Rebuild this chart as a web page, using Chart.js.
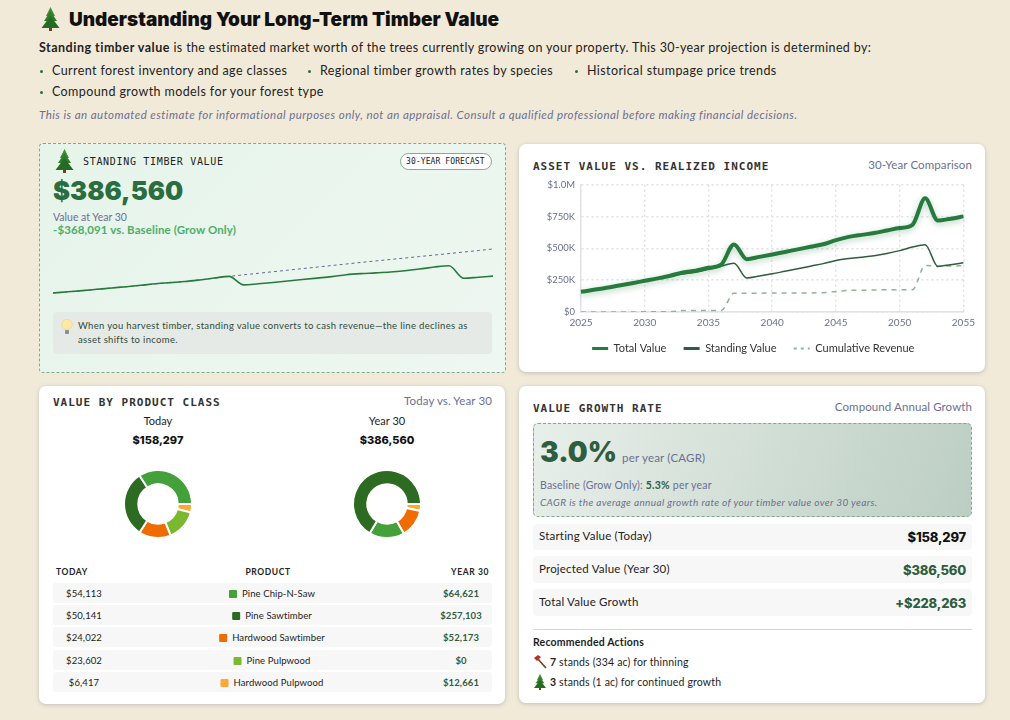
<!DOCTYPE html>
<html>
<head>
<meta charset="utf-8">
<title>Long-Term Timber Value</title>
<script src="https://cdn.jsdelivr.net/npm/chart.js@4/dist/chart.umd.min.js"></script>
<style>
  * { box-sizing: border-box; }
  html, body { margin: 0; padding: 0; }
  body { width: 1010px; height: 720px; overflow: hidden; position: relative; background: #f2ead9; font-family: Lato, sans-serif; color: #1d1d1f; }
  .t { position: absolute; white-space: nowrap; line-height: 16px; height: 16px; }
  .r { text-align: right; }
  .c { text-align: center; transform: translateX(-50%); }
  .card { position: absolute; background: #fff; border-radius: 7px; box-shadow: 0 1px 4px rgba(60,60,90,.25); }
  .hero { background: linear-gradient(135deg, #e6f4ea, #eef7f1); border: 1px dashed #7fa88f; border-radius: 4px; box-shadow: none; }
  .mono { font-family: "DejaVu Sans Mono", monospace; font-weight: 700; font-size: 10px; color: #333; }
  .sub { font-size: 11.5px; color: #6b6f93; letter-spacing: .1px; }
  .intro { font-size: 12.5px; letter-spacing: .4px; color: #222; }
  .dot { position: absolute; width: 3px; height: 3px; border-radius: 50%; background: #2f6b45; }
  .pill { position: absolute; left: 400px; top: 153px; width: 92px; height: 17px; background: #fff; border: 1px solid #8aa896; border-radius: 9px; }
  .tip { position: absolute; left: 53px; top: 312px; width: 439px; height: 42px; background: #e5eae6; border-radius: 4px; }
  .tiptext { font-size: 9.5px; letter-spacing: .32px; color: #2f4a3a; }
  .row { position: absolute; left: 53px; width: 439px; height: 20px; background: #f7f7f7; border-radius: 3px; font-size: 9.5px; letter-spacing: .1px; line-height: 21px; color: #222; }
  .row span { position: absolute; top: 0; white-space: nowrap; transform: translateX(-50%); }
  .row i { display: inline-block; width: 8px; height: 8px; border-radius: 1px; margin-right: 5px; vertical-align: -1px; }
  .yr { color: #2f5d3f; font-weight: 700; }
  .th { font-size: 8.5px; font-weight: 700; letter-spacing: .6px; color: #222; }
  .cagr { position: absolute; left: 533px; top: 423px; width: 439px; height: 94px; border: 1px dashed #7fa88f; border-radius: 5px; background: linear-gradient(110deg, #e8efea, #bccec3); }
  .stat { position: absolute; left: 533px; width: 439px; background: #f7f7f7; border-radius: 4px; }
  .sl { font-size: 11.5px; letter-spacing: .2px; color: #222; }
  .sv { font: 800 13px/16px Inter, sans-serif; letter-spacing: -.2px; color: #111; }
  .big { font-family: Inter, sans-serif; font-weight: 900; }
  .rule { position: absolute; left: 533px; top: 629px; width: 439px; height: 1px; background: #d5d5e0; }
  svg.icon { position: absolute; }
  canvas { position: absolute; }
</style>
</head>
<body>

<svg width="0" height="0" style="position:absolute">
  <symbol id="tree" viewBox="0 0 20 24">
    <rect x="8.5" y="19" width="3" height="5" fill="#6b4226"/>
    <polygon points="10,0 14.5,9 5.5,9" fill="#3f8f2f"/>
    <polygon points="10,4 16.5,14 3.5,14" fill="#2f7d2a"/>
    <polygon points="10,9 19,21 1,21" fill="#256b24"/>
  </symbol>
</svg>

<!-- intro -->
<svg class="icon" style="left:40px;top:7px" width="21" height="24"><use href="#tree"/></svg>
<div class="t big" style="left:69px;top:12px;font-size:19px;color:#111">Understanding Your Long-Term Timber Value</div>
<div class="t intro" style="left:39px;top:40px;letter-spacing:.36px"><b style="letter-spacing:.5px">Standing timber value</b> is the estimated market worth of the trees currently growing on your property. This 30-year projection is determined by:</div>
<div class="dot" style="left:40px;top:70px"></div>
<div class="t intro" style="left:52px;top:63px">Current forest inventory and age classes</div>
<div class="dot" style="left:308px;top:70px"></div>
<div class="t intro" style="left:320px;top:63px">Regional timber growth rates by species</div>
<div class="dot" style="left:575px;top:70px"></div>
<div class="t intro" style="left:587px;top:63px">Historical stumpage price trends</div>
<div class="dot" style="left:40px;top:91px"></div>
<div class="t intro" style="left:52px;top:84px">Compound growth models for your forest type</div>
<div class="t" style="left:39px;top:107px;font-size:11.5px;font-style:italic;letter-spacing:.45px;color:#6b6f93">This is an automated estimate for informational purposes only, not an appraisal. Consult a qualified professional before making financial decisions.</div>

<!-- standing timber value -->
<div class="card hero" style="left:39px;top:143px;width:467px;height:230px"></div>
<svg class="icon" style="left:54px;top:149px" width="21" height="24"><use href="#tree"/></svg>
<div class="t mono" style="left:83px;top:154px;letter-spacing:.68px;font-weight:400;color:#222">STANDING TIMBER VALUE</div>
<div class="pill"></div>
<div class="t mono" style="left:406px;top:154px;font-size:8px;letter-spacing:.1px;font-weight:400;color:#222">30-YEAR FORECAST</div>
<div class="t big" style="left:53px;top:183px;font-size:25.6px;color:#2a6e3f">$386,560</div>
<div class="t" style="left:53px;top:209px;font-size:10.5px;color:#6b6f93">Value at Year 30</div>
<div class="t" style="left:53px;top:222px;font-size:11.5px;font-weight:700;color:#4caf6a;letter-spacing:.1px">-$368,091 vs. Baseline (Grow Only)</div>
<canvas id="spark" style="left:53px;top:240px"></canvas>
<div class="tip"></div>
<svg class="icon" style="left:61px;top:319px" width="12" height="16" viewBox="0 0 12 16">
  <circle cx="6" cy="5.5" r="5.2" fill="#ffe9a6" stroke="#e6cf8a" stroke-width=".6"/>
  <rect x="4" y="11" width="4" height="4" rx="1" fill="#8a8f94"/>
</svg>
<div class="t tiptext" style="left:78px;top:318px">When you harvest timber, standing value converts to cash revenue—the line declines as</div>
<div class="t tiptext" style="left:78px;top:332px">asset shifts to income.</div>

<!-- asset vs income -->
<div class="card" style="left:519px;top:144px;width:466px;height:228px"></div>
<div class="t mono" style="left:533px;top:159px;font-size:11px;letter-spacing:1px">ASSET VALUE VS. REALIZED INCOME</div>
<div class="t sub r" style="left:772px;width:200px;top:157px">30-Year Comparison</div>
<canvas id="assetChart" style="left:539px;top:173px"></canvas>

<!-- product class -->
<div class="card" style="left:39px;top:386px;width:466px;height:318px"></div>
<div class="t mono" style="left:53px;top:395px;font-size:11px;letter-spacing:1px">VALUE BY PRODUCT CLASS</div>
<div class="t sub r" style="left:292px;width:200px;top:393px">Today vs. Year 30</div>
<div class="t c" style="left:158px;top:413px;font-size:11px">Today</div>
<div class="t c" style="left:158px;top:432px;font:800 11px/16px Inter,sans-serif;color:#111">$158,297</div>
<div class="t c" style="left:387px;top:413px;font-size:11px">Year 30</div>
<div class="t c" style="left:387px;top:432px;font:800 11px/16px Inter,sans-serif;color:#111">$386,560</div>
<canvas id="donutToday" style="left:118px;top:464px"></canvas>
<canvas id="donutYear30" style="left:347px;top:464px"></canvas>
<div class="t th" style="left:56px;top:564px">TODAY</div>
<div class="t th c" style="left:268px;top:564px">PRODUCT</div>
<div class="t th r" style="left:389px;width:100px;top:564px">YEAR 30</div>
<div id="rows"></div>

<!-- growth rate -->
<div class="card" style="left:519px;top:386px;width:466px;height:317px"></div>
<div class="t mono" style="left:533px;top:401px;font-size:11px;letter-spacing:1px">VALUE GROWTH RATE</div>
<div class="t sub r" style="left:772px;width:200px;top:399px">Compound Annual Growth</div>
<div class="cagr"></div>
<div class="t big" style="left:540px;top:444px;font-size:28px;color:#2f5d3f">3.0%</div>
<div class="t" style="left:622px;top:450px;font-size:11.5px;color:#6b6f93;letter-spacing:.2px">per year (CAGR)</div>
<div class="t" style="left:540px;top:477px;font-size:10.5px;color:#6b6f93;letter-spacing:.2px">Baseline (Grow Only): <b style="color:#2f5d3f">5.3%</b> per year</div>
<div class="t" style="left:540px;top:494px;font-size:10px;font-style:italic;color:#6b6f93;letter-spacing:.37px">CAGR is the average annual growth rate of your timber value over 30 years.</div>

<div class="stat" style="top:524px;height:26px"></div>
<div class="t sl" style="left:539px;top:528px">Starting Value (Today)</div>
<div class="t sv r" style="left:766px;width:200px;top:529px">$158,297</div>
<div class="stat" style="top:556px;height:27px"></div>
<div class="t sl" style="left:539px;top:561px">Projected Value (Year 30)</div>
<div class="t sv r" style="left:766px;width:200px;top:562px;color:#2f5d3f">$386,560</div>
<div class="stat" style="top:589px;height:27px"></div>
<div class="t sl" style="left:539px;top:594px">Total Value Growth</div>
<div class="t sv r" style="left:766px;width:200px;top:595px;color:#2f5d3f">+$228,263</div>
<div class="rule"></div>
<div class="t" style="left:533px;top:634px;font-size:10.5px;font-weight:700;letter-spacing:.2px">Recommended Actions</div>
<svg class="icon" style="left:533px;top:655px" width="14" height="14" viewBox="0 0 14 14">
  <line x1="4" y1="3" x2="13" y2="13" stroke="#7a4a28" stroke-width="1.8"/>
  <polygon points="1,3 5,0 8,2 4,6" fill="#b5322a"/>
</svg>
<div class="t" style="left:550px;top:654px;font-size:10.5px;letter-spacing:.15px"><b>7</b> stands (334 ac) for thinning</div>
<svg class="icon" style="left:533px;top:674px" width="14" height="16"><use href="#tree"/></svg>
<div class="t" style="left:550px;top:674px;font-size:10.5px;letter-spacing:.15px"><b>3</b> stands (1 ac) for continued growth</div>

<script>
// ── DATA ─────────────────────────────────────────────
const years = [2025,2026,2027,2028,2029,2030,2031,2032,2033,2034,2035,2036,2037,2038,2039,2040,
  2041,2042,2043,2044,2045,2046,2047,2048,2049,2050,2051,2052,2053,2054,2055];
const totalValue = [158297,174000,190000,208000,226000,245000,264000,285000,311000,325000,347000,372000,531000,415000,433000,452000,
  472000,492000,512000,532000,565000,590000,606000,620000,640000,660000,685000,893000,718000,733000,751000];
const standingValue = [158297,174000,190000,208000,226000,243000,262000,283000,299000,313000,335000,360000,383000,268000,283000,300000,
  320000,340000,360000,380000,405000,420000,430000,442000,460000,482000,510000,528000,358000,372000,386560];
const cumulativeRevenue = [0,0,0,0,0,2000,2000,2000,12000,12000,12000,12000,148000,148000,148000,150000,
  150000,150000,150000,152000,160000,170000,170000,173000,175000,175000,175000,365000,360000,361000,364000];
const baselineValue = [158297,174000,190000,208000,226000,243000,262000,283000,299000,313000,335000,360000,383000,404000,425000,446000,
  467000,488000,509000,530000,551000,572000,592000,612000,632000,652000,672000,692000,713000,733000,754651];
const yTickLabels = ['$0','$250K','$500K','$750K','$1.0M'];

const productRows = ['Pine Chip-N-Saw','Pine Sawtimber','Hardwood Sawtimber','Pine Pulpwood','Hardwood Pulpwood'];
const productColors = ['#43a03a','#2d6a22','#ef6c00','#7cb82f','#ffa733'];
const todayValues = [54113,50141,24022,23602,6417];
const year30Values = [64621,257103,52173,0,12661];
// slice order, clockwise from 3 o'clock
const todayOrder = [4,3,2,1,0];
const year30Order = [4,3,2,0,1];

// ── TABLE ────────────────────────────────────────────
const money = v => '$' + v.toLocaleString('en-US');
const rowTops = [583,605,627,650,672];
document.getElementById('rows').innerHTML = productRows.map((name, i) => `
  <div class="row" style="top:${rowTops[i]}px">
    <span style="left:31px">${money(todayValues[i])}</span>
    <span style="left:219px"><i style="background:${productColors[i]}"></i>${name}</span>
    <span class="yr" style="left:408px">${money(year30Values[i])}</span>
  </div>`).join('');

// ── CHARTS ───────────────────────────────────────────
Chart.defaults.animation = false;
Chart.defaults.responsive = false;
Chart.defaults.devicePixelRatio = 1;
Chart.defaults.font.family = 'Lato, sans-serif';

const muted = '#6b6f93';
const totalGreen = '#277a3e';
const standGreen = '#2f5d3f';
const revGreen = '#8fb39b';

function sizeCanvas(id, w, h) {
  const c = document.getElementById(id);
  c.width = w; c.height = h;
  return c;
}

// Sparkline
new Chart(sizeCanvas('spark', 440, 60), {
  type: 'line',
  data: {
    labels: years,
    datasets: [
      { data: standingValue, borderColor: totalGreen, borderWidth: 1.6, pointRadius: 0, cubicInterpolationMode: 'monotone' },
      { data: baselineValue, borderColor: '#5f6a8f', borderWidth: 1, borderDash: [3, 3], pointRadius: 0, cubicInterpolationMode: 'monotone' }
    ]
  },
  options: {
    plugins: { legend: { display: false }, tooltip: { enabled: false } },
    layout: { padding: 0 },
    scales: {
      x: { display: false },
      y: { display: false, min: 63000, max: 876000 }
    }
  }
});

// Glow under the total line
const glow = {
  id: 'glow',
  beforeDatasetDraw(chart, args) {
    if (args.index !== 0) return;
    chart.ctx.save();
    chart.ctx.shadowColor = 'rgba(39,122,62,.35)';
    chart.ctx.shadowBlur = 6;
    chart.ctx.shadowOffsetY = 2;
  },
  afterDatasetDraw(chart, args) {
    if (args.index === 0) chart.ctx.restore();
  }
};

new Chart(sizeCanvas('assetChart', 441, 191), {
  type: 'line',
  data: {
    labels: years,
    datasets: [
      { label: 'Total Value', data: totalValue, borderColor: totalGreen, backgroundColor: totalGreen, borderWidth: 4, pointRadius: 0, cubicInterpolationMode: 'monotone', order: 1 },
      { label: 'Standing Value', data: standingValue, borderColor: standGreen, backgroundColor: standGreen, borderWidth: 1.5, pointRadius: 0, cubicInterpolationMode: 'monotone', order: 2 },
      { label: 'Cumulative Revenue', data: cumulativeRevenue, borderColor: revGreen, backgroundColor: revGreen, borderWidth: 1.5, borderDash: [5, 5], pointRadius: 0, cubicInterpolationMode: 'monotone', order: 3 }
    ]
  },
  plugins: [glow],
  options: {
    layout: { padding: { top: 2, right: 12.5, bottom: 0, left: 0 } },
    plugins: {
      tooltip: { enabled: false },
      legend: {
        position: 'bottom',
        labels: {
          color: '#333',
          font: { size: 11 },
          usePointStyle: true,
          pointStyle: 'line',
          pointStyleWidth: 16,
          boxHeight: 6,
          padding: 9,
          generateLabels(chart) {
            const items = Chart.defaults.plugins.legend.labels.generateLabels(chart);
            items.forEach((it, i) => {
              it.pointStyle = 'line';
              it.lineWidth = i === 2 ? 2 : 3;
              it.lineDash = i === 2 ? [3, 4] : [];
              if (i < 2) it.text += '\u2003';
            });
            return items;
          }
        }
      }
    },
    scales: {
      x: {
        grid: { color: '#e0e0e6', lineWidth: 1.4, drawTicks: false },
        border: { dash: [2, 3], color: '#e0e0e6', width: 1.4 },
        ticks: {
          color: muted, font: { size: 10 }, padding: 5, autoSkip: false, maxRotation: 0,
          callback(v) { return years[v]; }
        },
        afterBuildTicks(axis) { axis.ticks = axis.ticks.filter(t => t.value % 5 === 0); }
      },
      y: {
        min: 0, max: 1000000,
        grid: { color: '#e0e0e6', lineWidth: 1.4, drawTicks: false },
        border: { dash: [2, 3], color: '#e0e0e6', width: 1.4 },
        afterFit(axis) { axis.width = 42; },
        ticks: {
          color: muted, font: { size: 9.5 }, padding: 6, stepSize: 250000,
          callback(v) { return yTickLabels[v / 250000]; }
        }
      }
    }
  }
});

// Donuts
function donut(id, values, order) {
  new Chart(sizeCanvas(id, 80, 80), {
    type: 'doughnut',
    data: {
      labels: order.map(i => productRows[i]),
      datasets: [{
        data: order.map(i => values[i]),
        backgroundColor: order.map(i => productColors[i]),
        borderColor: '#fff',
        borderWidth: 2
      }]
    },
    options: {
      rotation: 90,
      cutout: '58%',
      radius: 34,
      layout: { padding: 0 },
      plugins: { legend: { display: false }, tooltip: { enabled: false } }
    }
  });
}
donut('donutToday', todayValues, todayOrder);
donut('donutYear30', year30Values, year30Order);
</script>
</body>
</html>
